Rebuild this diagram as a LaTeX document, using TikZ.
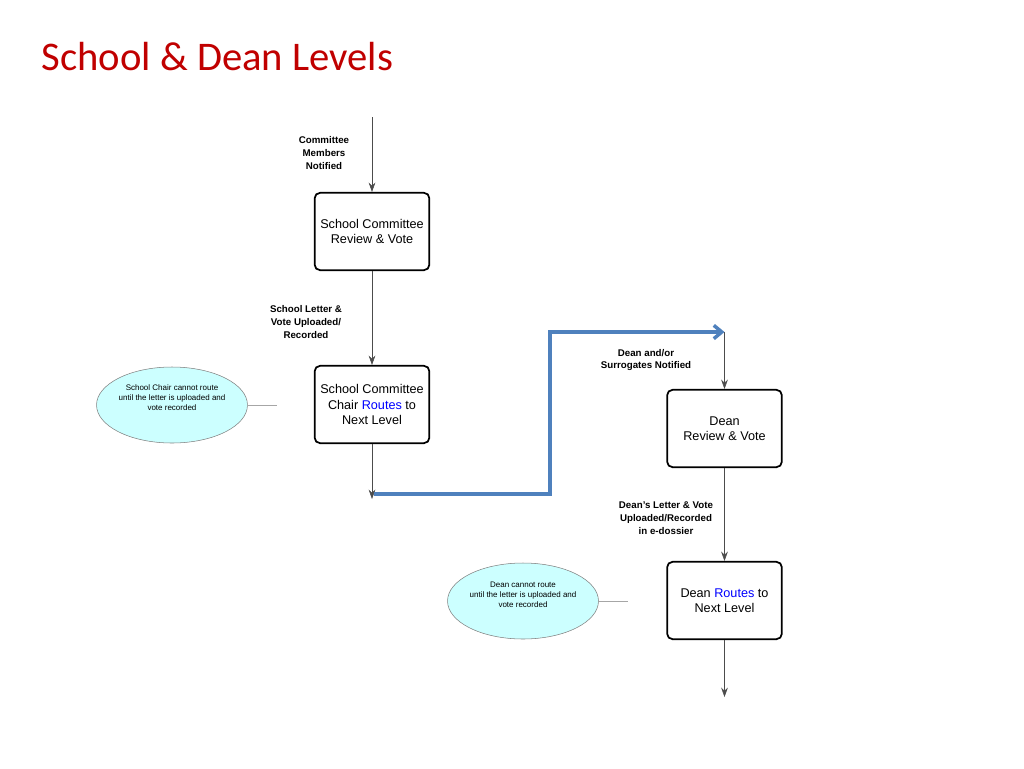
\documentclass[tikz,border=0pt]{standalone}
\usepackage{fontspec}
\setmainfont{Liberation Sans}
\newfontfamily\titlefont{Carlito}
\usetikzlibrary{arrows.meta,shapes.geometric}
\definecolor{tred}{HTML}{C00000}
\definecolor{rblue}{HTML}{4F81BD}
\definecolor{ecyan}{HTML}{CCFFFF}
\begin{document}
\begin{tikzpicture}[x=0.75pt,y=-0.75pt,
  box/.style={draw,line width=1.3pt,rounded corners=4pt,minimum width=86pt,minimum height=58pt,align=center,font=\fontsize{9.5}{11.5}\selectfont},
  oval/.style={draw=gray,fill=ecyan,ellipse,minimum width=101pt,minimum height=57pt,align=center,font=\fontsize{6}{7.5}\selectfont,inner sep=0pt},
  lab/.style={align=center,font=\bfseries\fontsize{7.3}{9.7}\selectfont},
  arr/.style={draw,gray!60!black,-{Stealth[length=7pt,width=5pt]},line width=0.4pt}]
\useasboundingbox (0,0) rectangle (1024,768);
\node[anchor=west,font=\titlefont\fontsize{30.5}{33}\selectfont,text=tred] (title) at (37,57) {School \& Dean Levels};
\coordinate (top) at (372,117);
\node[box] (scv) at (372,231.5) {School Committee\\Review \& Vote};
\node[box] (scc) at (372,404.5) {School Committee\\Chair \textcolor{blue}{Routes} to\\Next Level};
\node[box] (drv) at (724.5,428.5) {Dean\\Review \& Vote};
\node[box] (drt) at (724.5,600.5) {Dean \textcolor{blue}{Routes} to\\Next Level};
\coordinate (e1) at (372,499);
\coordinate (d0) at (724.5,332);
\coordinate (bot) at (724.5,697);
\draw[arr] (top) -- (scv);
\draw[arr] (scv) -- (scc);
\draw[arr] (scc) -- (e1);
\draw[arr] (d0) -- (drv);
\draw[arr] (drv) -- (drt);
\draw[arr] (drt) -- (bot);
\draw[rblue,line width=2.6pt,-{Straight Barb[length=6pt,width=10pt]}] (374,494) -- (550,494) -- (550,332) -- (d0);
\node[lab] (l1) at (324,153) {Committee\\Members\\Notified};
\node[lab] (l2) at (306,322) {School Letter \&\\Vote Uploaded/\\Recorded};
\node[lab] (l3) at (646,360) {Dean and/or\\Surrogates Notified};
\node[lab] (l4) at (666,518) {Dean’s Letter \& Vote\\Uploaded/Recorded\\in e-dossier};
\node[oval] (o1) at (172,405) {School Chair cannot route\\until the letter  is uploaded and\\vote recorded\\[4pt]};
\node[oval] (o2) at (523,601) {Dean cannot route\\until the letter  is uploaded and\\vote recorded\\[2pt]};
\coordinate (o1e) at (277,405);
\coordinate (o2e) at (628,601);
\draw[gray!70] (o1) -- (o1e);
\draw[gray!70] (o2) -- (o2e);
\end{tikzpicture}
\end{document}
